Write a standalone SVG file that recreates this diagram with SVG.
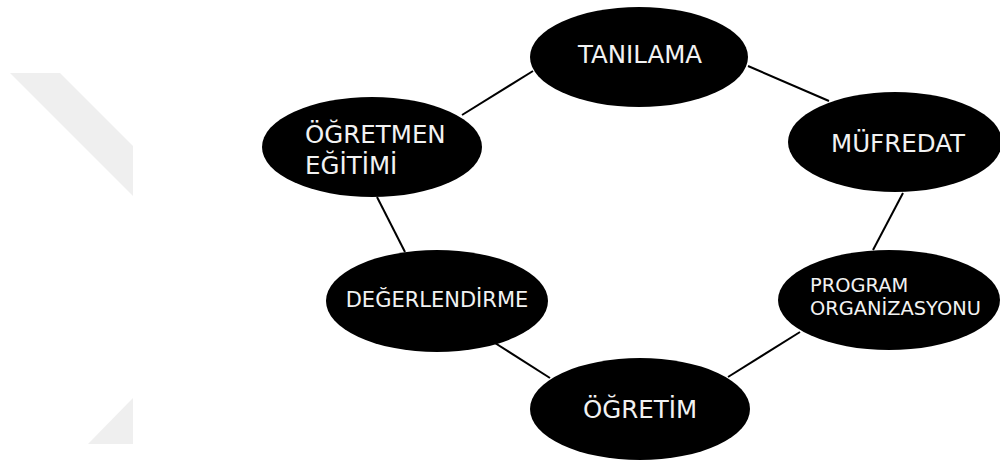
<svg xmlns="http://www.w3.org/2000/svg" width="1000" height="462" viewBox="0 0 1000 462">
<style>
.n{fill:#000}
.t{fill:#f2f2f2;font-family:"DejaVu Sans",sans-serif;text-anchor:middle}
.b{font-size:24.5px}
.s{font-size:19.4px}
.c line{stroke:#000;stroke-width:2}
</style>
<rect width="1000" height="462" fill="#fff"/>
<g id="watermark" fill="#efefef">
<polygon points="10,73 60,73 133,146 133,196"/>
<polygon points="133,398 133,444 88,444"/>
</g>
<g class="c" id="connectors">
<line x1="462" y1="115" x2="533" y2="71"/>
<line x1="748" y1="66" x2="829" y2="101"/>
<line x1="903" y1="193" x2="873" y2="250"/>
<line x1="800" y1="332" x2="728" y2="377"/>
<line x1="495" y1="343" x2="550" y2="378"/>
<line x1="377" y1="197" x2="405" y2="252"/>
</g>
<g id="tanilama"><ellipse class="n" cx="639" cy="57" rx="109" ry="50"/><text class="t b" x="640" y="63">TANILAMA</text></g>
<g id="ogretmen"><ellipse class="n" cx="372" cy="147" rx="110" ry="50"/><text class="t b" x="305" y="143" style="text-anchor:start">ÖĞRETMEN<tspan x="305" y="174">EĞİTİMİ</tspan></text></g>
<g id="mufredat"><ellipse class="n" cx="895" cy="142" rx="107" ry="50"/><text class="t b" x="898" y="152">MÜFREDAT</text></g>
<g id="program"><ellipse class="n" cx="889" cy="300" rx="111" ry="50"/><text class="t s" x="810" y="292" style="text-anchor:start">PROGRAM<tspan x="810" y="315">ORGANİZASYONU</tspan></text></g>
<g id="degerlendirme"><ellipse class="n" cx="437" cy="301" rx="111" ry="51"/><text class="t" x="437" y="307" style="font-size:21px">DEĞERLENDİRME</text></g>
<g id="ogretim"><ellipse class="n" cx="640" cy="409" rx="110" ry="51"/><text class="t b" x="640" y="418">ÖĞRETİM</text></g>
</svg>
